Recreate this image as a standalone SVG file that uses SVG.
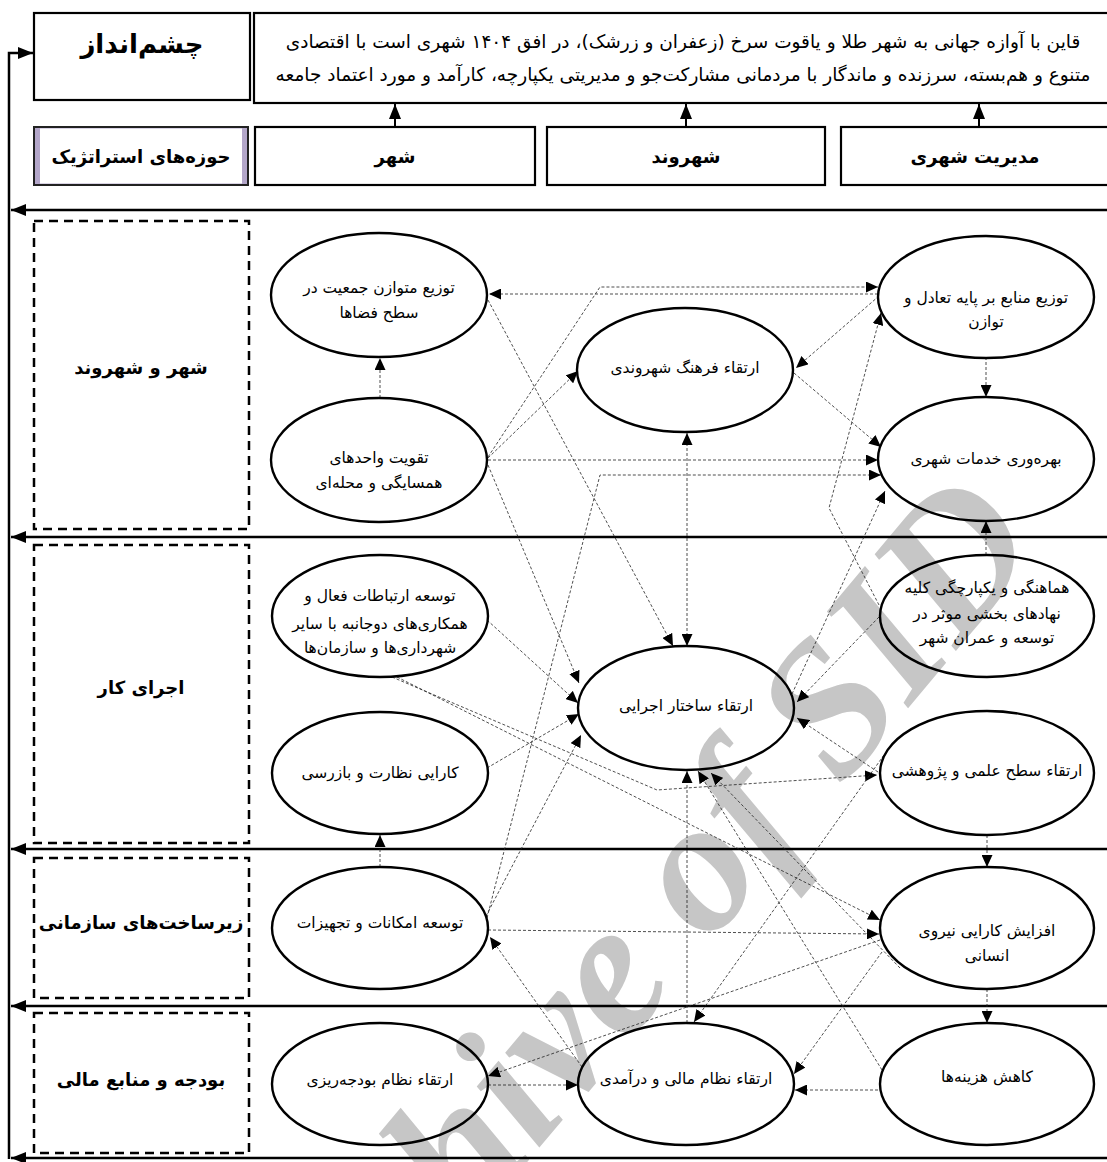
<svg xmlns="http://www.w3.org/2000/svg" width="1107" height="1162" viewBox="0 0 1107 1162">
<defs>
<marker id="a" viewBox="0 0 10 10" refX="10" refY="5" markerWidth="12" markerHeight="11" markerUnits="userSpaceOnUse" orient="auto-start-reverse" preserveAspectRatio="none"><path d="M0,0 L10,5 L0,10 z" fill="#000"/></marker>
<marker id="b" viewBox="0 0 10 10" refX="10" refY="5" markerWidth="15" markerHeight="12" markerUnits="userSpaceOnUse" orient="auto" preserveAspectRatio="none"><path d="M0,0 L10,5 L0,10 z" fill="#000"/></marker>
</defs>
<style>
.wm{font-family:"Liberation Serif",serif;font-weight:bold;font-style:italic;font-size:190px;fill:#c6c6c6}
.box{fill:#fff;stroke:#000;stroke-width:2.2}
.dbox{fill:none;stroke:#000;stroke-width:2.5;stroke-dasharray:9 6}
.el{fill:none;stroke:#000;stroke-width:2.4}
.lane{fill:none;stroke:#000;stroke-width:2.5}
.c{fill:none;stroke:#222;stroke-width:0.8;stroke-dasharray:3 2;marker-end:url(#a)}
.up{fill:none;stroke:#000;stroke-width:2;marker-end:url(#b)}
text{font-family:"DejaVu Sans",sans-serif;fill:#000;text-anchor:middle;direction:rtl}
.t{font-size:15.5px}
.v{font-size:18.5px}
.h{font-size:18px;font-weight:bold}
.l{font-size:18px;font-weight:bold}
.big{font-size:26px;font-weight:bold}
</style>

<g id="watermark"><text class="wm" transform="translate(1045,545) rotate(-50)" style="text-anchor:end;direction:ltr">Archive of SID</text></g>

<g id="lanes">
<path class="lane" d="M1107,210 H11" marker-end="url(#b)"/>
<path class="lane" d="M1107,537 H11" marker-end="url(#b)"/>
<path class="lane" d="M1107,849 H11" marker-end="url(#b)"/>
<path class="lane" d="M1107,1006 H11" marker-end="url(#b)"/>
<path class="lane" d="M1107,1158 H11" marker-end="url(#b)"/>
<path class="lane" d="M9,1159 V53 H33" marker-end="url(#b)"/>
</g>

<g id="vision-title"><rect class="box" x="34" y="13" width="216" height="87"/><text class="big" x="142" y="53">چشم&#x200C;انداز</text></g>
<g id="vision"><rect class="box" x="254" y="13" width="870" height="90"/>
<text class="v" x="683" y="48">قاین با آوازه جهانی به شهر طلا و یاقوت سرخ (زعفران و زرشک)، در افق ۱۴۰۴ شهری است با اقتصادی</text>
<text class="v" x="683" y="81">متنوع و هم&#x200C;بسته، سرزنده و ماندگار با مردمانی مشارکت&#x200C;جو و مدیریتی یکپارچه، کارآمد و مورد اعتماد جامعه</text></g>

<g id="header-areas"><rect x="34" y="127" width="214" height="58" fill="#b3a6c9" stroke="#222" stroke-width="2"/><rect x="40" y="128.5" width="202" height="55" fill="#fff"/><text class="h" x="141" y="163">حوزه&#x200C;های استراتژیک</text></g>
<g id="header-city"><rect class="box" x="255" y="127" width="280" height="58"/><text class="h" x="395" y="163">شهر</text></g>
<g id="header-citizen"><rect class="box" x="547" y="127" width="278" height="58"/><text class="h" x="686" y="163">شهروند</text></g>
<g id="header-management"><rect class="box" x="841" y="127" width="280" height="58"/><text class="h" x="975" y="163">مدیریت شهری</text></g>

<g id="header-arrows">
<path class="up" d="M395,127 V104"/>
<path class="up" d="M686,127 V104"/>
<path class="up" d="M979,127 V104"/>
</g>

<g id="lane-city"><rect class="dbox" x="34" y="221" width="215" height="308"/><text class="l" x="141" y="374">شهر و شهروند</text></g>
<g id="lane-execution"><rect class="dbox" x="34" y="545" width="215" height="298"/><text class="l" x="141" y="694">اجرای کار</text></g>
<g id="lane-infra"><rect class="dbox" x="34" y="858" width="215" height="140"/><text class="l" x="141" y="929">زیرساخت&#x200C;های سازمانی</text></g>
<g id="lane-budget"><rect class="dbox" x="34" y="1013" width="215" height="140"/><text class="l" x="141" y="1086">بودجه و منابع مالی</text></g>

<g id="connectors">
<path class="c" d="M380,398 V358"/>
<path class="c" d="M878,294 H489"/>
<path class="c" d="M488,457 L600,287 H878"/>
<path class="c" d="M488,458 L578,371"/>
<path class="c" d="M879,296 L796,368"/>
<path class="c" d="M794,373 L881,447"/>
<path class="c" d="M488,460 H878"/>
<path class="c" d="M487,918 L600,475 H881"/>
<path class="c" d="M986,357 V397"/>
<path class="c" d="M687,646 V433" style="marker-start:url(#a)"/>
<path class="c" d="M986,555 V521"/>
<path class="c" d="M488,300 L673,646"/>
<path class="c" d="M879,605 L829,508 L881,313"/>
<path class="c" d="M792,694 L885,491"/>
<path class="c" d="M879,617 L797,702"/>
<path class="c" d="M878,772 L797,718"/>
<path class="c" d="M488,465 L579,683"/>
<path class="c" d="M487,620 L578,703"/>
<path class="c" d="M487,768 L579,714"/>
<path class="c" d="M486,916 L581,735"/>
<path class="c" d="M392,677 L657,790 L877,775"/>
<path class="c" d="M397,677 L880,920"/>
<path class="c" d="M380,867 V835"/>
<path class="c" d="M987,835 V867"/>
<path class="c" d="M687,1023 V771"/>
<path class="c" d="M882,1070 L698,771"/>
<path class="c" d="M900,968 L711,773"/>
<path class="c" d="M884,755 L694,1022"/>
<path class="c" d="M488,930 L879,934"/>
<path class="c" d="M582,1067 L490,937"/>
<path class="c" d="M880,940 L488,1076"/>
<path class="c" d="M882,952 L794,1074"/>
<path class="c" d="M878,1090 H795"/>
<path class="c" d="M488,1085 H578"/>
<path class="c" d="M987,989 V1023"/>
</g>

<g id="n1"><ellipse class="el" cx="379" cy="295" rx="108" ry="62"/><text class="t" x="379" y="293">توزیع متوازن جمعیت در</text><text class="t" x="379" y="318">سطح فضاها</text></g>
<g id="n2"><ellipse class="el" cx="379" cy="460" rx="108" ry="62"/><text class="t" x="379" y="463">تقویت واحدهای</text><text class="t" x="379" y="488">همسایگی و محله&#x200C;ای</text></g>
<g id="n3"><ellipse class="el" cx="685" cy="370" rx="108" ry="62"/><text class="t" x="685" y="373">ارتقاء فرهنگ شهروندی</text></g>
<g id="n4"><ellipse class="el" cx="986" cy="297" rx="108" ry="61"/><text class="t" x="986" y="303">توزیع منابع بر پایه تعادل و</text><text class="t" x="986" y="327">توازن</text></g>
<g id="n5"><ellipse class="el" cx="986" cy="459" rx="108" ry="62"/><text class="t" x="986" y="464">بهره&#x200C;وری خدمات شهری</text></g>
<g id="n6"><ellipse class="el" cx="380" cy="616" rx="108" ry="61"/><text class="t" x="380" y="601">توسعه ارتباطات فعال و</text><text class="t" x="380" y="629">همکاری&#x200C;های دوجانبه با سایر</text><text class="t" x="380" y="653">شهرداری&#x200C;ها و سازمان&#x200C;ها</text></g>
<g id="n7"><ellipse class="el" cx="380" cy="773" rx="108" ry="61"/><text class="t" x="380" y="778">کارایی نظارت و بازرسی</text></g>
<g id="n8"><ellipse class="el" cx="686" cy="708" rx="108" ry="62"/><text class="t" x="686" y="711">ارتقاء ساختار اجرایی</text></g>
<g id="n9"><ellipse class="el" cx="987" cy="616" rx="107" ry="61"/><text class="t" x="987" y="593">هماهنگی و یکپارچگی کلیه</text><text class="t" x="987" y="619">نهادهای بخشی موثر در</text><text class="t" x="987" y="643">توسعه و عمران شهر</text></g>
<g id="n10"><ellipse class="el" cx="987" cy="773" rx="107" ry="62"/><text class="t" x="987" y="776">ارتقاء سطح علمی و پژوهشی</text></g>
<g id="n11"><ellipse class="el" cx="380" cy="928" rx="108" ry="61"/><text class="t" x="380" y="928">توسعه امکانات و تجهیزات</text></g>
<g id="n12"><ellipse class="el" cx="987" cy="928" rx="107" ry="61"/><text class="t" x="987" y="936">افزایش کارایی نیروی</text><text class="t" x="987" y="961">انسانی</text></g>
<g id="n13"><ellipse class="el" cx="380" cy="1084" rx="108" ry="61"/><text class="t" x="380" y="1085">ارتقاء نظام بودجه&#x200C;ریزی</text></g>
<g id="n14"><ellipse class="el" cx="686" cy="1084" rx="108" ry="61"/><text class="t" x="686" y="1084">ارتقاء نظام مالی و درآمدی</text></g>
<g id="n15"><ellipse class="el" cx="987" cy="1084" rx="107" ry="61"/><text class="t" x="987" y="1082">کاهش هزینه&#x200C;ها</text></g>
</svg>
